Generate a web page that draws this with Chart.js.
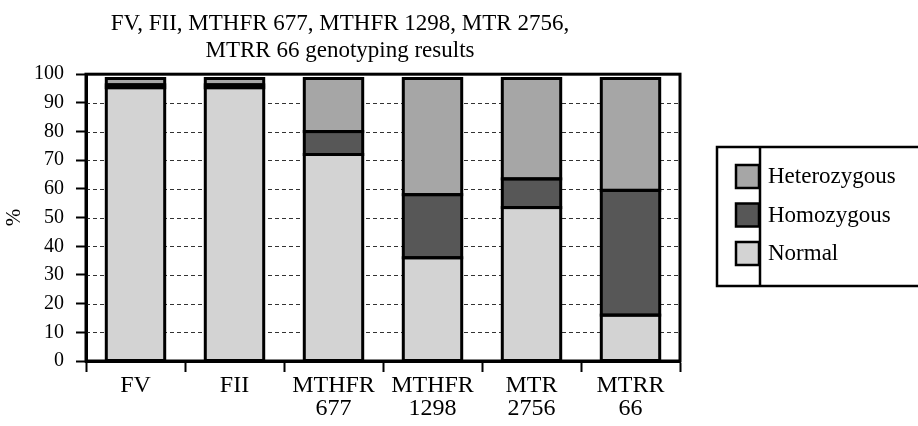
<!DOCTYPE html>
<html>
<head>
<meta charset="utf-8">
<script src="https://cdn.jsdelivr.net/npm/chart.js@4.4.1/dist/chart.umd.min.js"></script>
<style>
  html, body { margin: 0; padding: 0; background: #fff; }
  #wrap { width: 918px; height: 426px; }
</style>
</head>
<body>
<div id="wrap"><canvas id="chart" width="918" height="426"></canvas></div>
<script>
const categories = [["FV"], ["FII"], ["MTHFR", "677"], ["MTHFR", "1298"], ["MTR", "2756"], ["MTRR", "66"]];
const normal = [95.3, 95.3, 72, 36, 53.5, 16];
const homozygous = [1, 1, 8, 22, 10, 43.5];
const heterozygous = [2.2, 2.2, 18.5, 40.5, 35, 39];
const titleLines = ["FV, FII, MTHFR 677, MTHFR 1298, MTR 2756,", "MTRR 66 genotyping results"];

const SERIF = "'Liberation Serif', 'Times New Roman', serif";

// dashed horizontal grid lines, drawn from the y scale ticks
const dashedGrid = {
  id: "dashedGrid",
  beforeDatasetsDraw(chart) {
    const { left, right } = chart.chartArea;
    const y = chart.scales.y;
    const ctx = chart.ctx;
    ctx.save();
    ctx.strokeStyle = "#333";
    ctx.lineWidth = 1;
    ctx.setLineDash([4, 3]);
    y.ticks.forEach(tick => {
      if (tick.value === 0 || tick.value === 100) return;
      const py = Math.round(y.getPixelForValue(tick.value)) + 0.5;
      ctx.beginPath();
      ctx.moveTo(left, py);
      ctx.lineTo(right, py);
      ctx.stroke();
    });
    ctx.restore();
  }
};

// outline every bar segment so shared edges stay one line thick
const segmentOutline = {
  id: "segmentOutline",
  afterDatasetsDraw(chart) {
    const ctx = chart.ctx;
    ctx.save();
    ctx.strokeStyle = "#000";
    ctx.lineWidth = 3;
    chart.data.datasets.forEach((ds, i) => {
      chart.getDatasetMeta(i).data.forEach(bar => {
        const { x, y, base, width } = bar.getProps(["x", "y", "base", "width"], true);
        ctx.strokeRect(x - width / 2, y, width, base - y);
      });
    });
    ctx.restore();
  }
};

// boxed legend on the right, with the separator line between swatches and text
const boxLegend = {
  id: "boxLegend",
  afterDraw(chart) {
    const ctx = chart.ctx;
    const items = [...chart.data.datasets].reverse();
    ctx.save();
    ctx.strokeStyle = "#000";
    ctx.lineWidth = 2.5;
    ctx.strokeRect(717, 147, 230, 139);
    ctx.beginPath();
    ctx.moveTo(760, 147);
    ctx.lineTo(760, 286);
    ctx.stroke();
    ctx.font = "23px " + SERIF;
    ctx.textBaseline = "middle";
    items.forEach((ds, i) => {
      const y = 165 + i * 38.5;
      ctx.fillStyle = ds.backgroundColor;
      ctx.fillRect(736, y, 23, 23);
      ctx.lineWidth = 2.5;
      ctx.strokeRect(736, y, 23, 23);
      ctx.fillStyle = "#000";
      ctx.fillText(ds.label, 768, y + 12);
    });
    ctx.restore();
  }
};

const frame = {
  id: "frame",
  afterDatasetsDraw(chart) {
    const { left, top, right, bottom } = chart.chartArea;
    const ctx = chart.ctx;
    ctx.save();
    ctx.strokeStyle = "#000";
    ctx.lineWidth = 3;
    ctx.strokeRect(left, top, right - left, bottom - top);
    ctx.restore();
  }
};

const bgWhite = {
  id: "bgWhite",
  beforeDraw(chart) {
    const ctx = chart.ctx;
    ctx.save();
    ctx.fillStyle = "#fff";
    ctx.fillRect(0, 0, chart.width, chart.height);
    ctx.restore();
  }
};

new Chart(document.getElementById("chart").getContext("2d"), {
  type: "bar",
  data: {
    labels: categories,
    datasets: [
      { label: "Normal", data: normal, backgroundColor: "#d3d3d3" },
      { label: "Homozygous", data: homozygous, backgroundColor: "#575757" },
      { label: "Heterozygous", data: heterozygous, backgroundColor: "#a6a6a6" }
    ].map(ds => ({
      ...ds,
      borderWidth: 0,
      inflateAmount: 0,
      categoryPercentage: 1,
      barPercentage: 0.59
    }))
  },
  options: {
    responsive: false,
    animation: false,
    layout: { padding: { left: 0, right: 238, top: 0, bottom: 0 } },
    plugins: {
      legend: { display: false },
      tooltip: { enabled: false },
      title: {
        display: true,
        text: titleLines,
        color: "#000",
        font: { family: SERIF, size: 23, weight: "normal", lineHeight: 1.2 },
        padding: { top: 10, bottom: 9 }
      }
    },
    scales: {
      x: {
        stacked: true,
        border: { display: true, color: "#000", width: 3 },
        grid: { offset: true, drawOnChartArea: false, drawTicks: true, tickLength: 11, tickWidth: 2, tickColor: "#000" },
        ticks: { color: "#000", font: { family: SERIF, size: 24, lineHeight: 0.93 }, padding: 3, maxRotation: 0, autoSkip: false },
        afterFit: scale => { scale.height = 65; }
      },
      y: {
        stacked: true,
        min: 0,
        max: 100,
        border: { display: true, color: "#000", width: 3 },
        grid: {
          drawOnChartArea: false,
          tickLength: 10,
          tickWidth: 2,
          tickColor: "#000"
        },
        ticks: { stepSize: 10, color: "#000", font: { family: SERIF, size: 20 }, padding: 12 },
        title: { display: true, text: "%", color: "#000", font: { family: SERIF, size: 21 }, padding: { top: 2, bottom: 0 } },
        afterFit: scale => { scale.width = 86; }
      }
    }
  },
  plugins: [bgWhite, dashedGrid, segmentOutline, frame, boxLegend]
});
</script>
</body>
</html>
